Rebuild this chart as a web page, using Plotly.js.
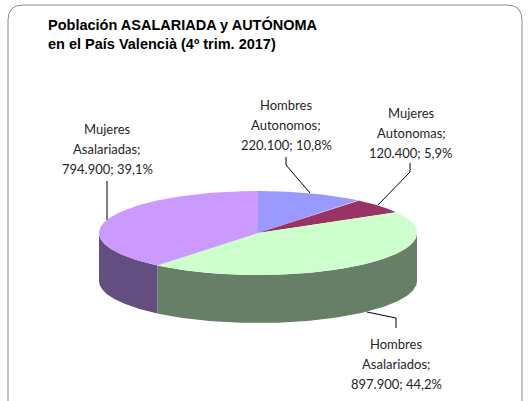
<!DOCTYPE html>
<html><head><meta charset="utf-8">
<script src="https://cdn.plot.ly/plotly-3.0.1.min.js"></script>
<style>html,body{margin:0;padding:0;background:#fff}#chart{width:529px;height:401px}</style>
</head><body><div id="chart"></div>
<script>
// ---- data ----
const categories = ['Hombres Autonomos', 'Mujeres Autonomas', 'Hombres Asalariados', 'Mujeres Asalariadas'];
const values = [220100, 120400, 897900, 794900];
const chartTitle = ['Población ASALARIADA y AUTÓNOMA', 'en el País Valencià (4º trim. 2017)'];

// ---- styles / layout constants ----
const topColors = ['#9999FF', '#993366', '#CCFFCC', '#CC99FF'];
const sideColors = ['#5C5C99', '#5C1F3D', '#667F66', '#634E80'];
const W = 529, H = 401;
const cx = 258, cy = 233, rx = 159, ry = 42, depth = 48;
// label centre x, first line y, leader polyline (pixel positions)
const labelPos = [
  {x: 286, y: 105, lead: [[286, 157], [286, 165], [310, 193]]},
  {x: 411, y: 113, lead: [[410, 163], [410, 172], [378, 205]]},
  {x: 396, y: 344, lead: [[367, 312], [396, 318], [396, 328]]},
  {x: 107, y: 129, lead: [[107, 181], [107, 220]]}
];
const lineGap = 20;

const total = values.reduce((a, b) => a + b, 0);
function fmtThousands(v) { return String(v).replace(/\B(?=(\d{3})+(?!\d))/g, '.'); }
function fmtPct(v) { return (v / total * 100).toFixed(1).replace('.', ',') + '%'; }
function pt(th, dy) { return [cx + rx * Math.sin(th), cy - ry * Math.cos(th) + dy]; }

const traces = [];
let acc = 0;
const ranges = values.map(v => { const a = acc / total * 2 * Math.PI; acc += v; return [a, acc / total * 2 * Math.PI]; });

// side walls (front half only: theta in [pi/2, 3pi/2])
ranges.forEach((r, i) => {
  const s = Math.max(r[0], Math.PI / 2), e = Math.min(r[1], 3 * Math.PI / 2);
  if (e <= s) return;
  const xs = [], ys = [], N = 120;
  for (let k = 0; k <= N; k++) { const p = pt(s + (e - s) * k / N, 0); xs.push(p[0]); ys.push(p[1]); }
  for (let k = N; k >= 0; k--) { const p = pt(s + (e - s) * k / N, depth); xs.push(p[0]); ys.push(p[1]); }
  traces.push({type: 'scatter', mode: 'lines', x: xs, y: ys, fill: 'toself', fillcolor: sideColors[i],
    line: {width: 0, color: sideColors[i]}, hoverinfo: 'skip', showlegend: false, name: categories[i]});
});
// top faces
ranges.forEach((r, i) => {
  const xs = [cx], ys = [cy], N = 150;
  for (let k = 0; k <= N; k++) { const p = pt(r[0] + (r[1] - r[0]) * k / N, 0); xs.push(p[0]); ys.push(p[1]); }
  xs.push(cx); ys.push(cy);
  traces.push({type: 'scatter', mode: 'lines', x: xs, y: ys, fill: 'toself', fillcolor: topColors[i],
    line: {width: 0, color: topColors[i]}, hoverinfo: 'skip', showlegend: false, name: categories[i]});
});

const annotations = [];
const shapes = [];
categories.forEach((c, i) => {
  const words = c.split(' ');
  const lines = [words[0], words.slice(1).join(' ') + ';', fmtThousands(values[i]) + '; ' + fmtPct(values[i])];
  lines.forEach((t, j) => {
    annotations.push({x: labelPos[i].x, y: labelPos[i].y + j * lineGap, xref: 'x', yref: 'y', text: t,
      showarrow: false, xanchor: 'center', yanchor: 'middle',
      font: {family: 'Lato, Noto Sans, sans-serif', size: 13, color: '#262626'}});
  });
  const L = labelPos[i].lead;
  shapes.push({type: 'path', xref: 'x', yref: 'y',
    path: 'M' + L.map(p => p[0] + ',' + p[1]).join(' L'), line: {color: '#000', width: 1}});
});
// chart area border (rounded)
shapes.push({type: 'path', xref: 'x', yref: 'y', layer: 'below',
  path: 'M8,402 L8,20 Q8,5 23,5 L507,5 Q522,5 522,20 L522,402', line: {color: '#888888', width: 1}});

const layout = {
  width: W, height: H, margin: {l: 0, r: 0, t: 0, b: 0},
  paper_bgcolor: '#fff', plot_bgcolor: '#fff',
  title: {text: '<b>' + chartTitle[0] + '</b><br><b>' + chartTitle[1] + '</b>', xref: 'container', yref: 'container',
    x: 48 / W, xanchor: 'left', y: 1 - 30 / H, yanchor: 'top',
    font: {family: 'Liberation Sans, Arial, sans-serif', size: 14.5, color: '#000'}},
  xaxis: {range: [0, W], visible: false, fixedrange: true},
  yaxis: {range: [H, 0], visible: false, fixedrange: true},
  annotations: annotations, shapes: shapes, showlegend: false
};
Plotly.newPlot('chart', traces, layout, {displayModeBar: false, staticPlot: true});
</script></body></html>
